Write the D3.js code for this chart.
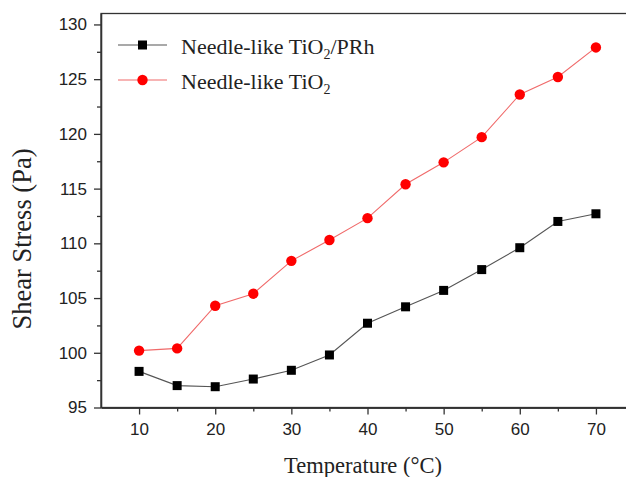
<!DOCTYPE html>
<html>
<head>
<meta charset="utf-8">
<script src="https://cdn.jsdelivr.net/npm/d3@7"></script>
<style>
body { margin:0; background:#fff; }
svg { display:block; }
.tick text { font-family:"Liberation Sans", Arial, sans-serif; font-size:17px; fill:#222; }
.axis path, .axis line { stroke:#333; stroke-width:1.3; }
.title { font-family:"Liberation Serif", "Times New Roman", serif; fill:#222; }
</style>
</head>
<body>
<svg id="chart"></svg>
<script>
var temps = [10,15,20,25,30,35,40,45,50,55,60,65,70]
var prhValues = [98.3,97.0,96.9,97.6,98.4,99.8,102.7,104.2,105.7,107.6,109.6,112.0,112.7]
var tio2Values = [100.2,100.4,104.3,105.4,108.4,110.3,112.3,115.4,117.4,119.7,123.6,125.2,127.9]
var xTicks = [10,20,30,40,50,60,70]
var xMinor = [15,25,35,45,55,65,75]
var yTicks = [95,100,105,110,115,120,125,130]
var yMinor = [97.5,102.5,107.5,112.5,117.5,122.5,127.5]

var screen = {width:626,height:477}
var margins = {left:101,top:13.5,right:-8,bottom:69.5}
var graph = {
    width:screen.width-margins.left-margins.right,
    height:screen.height-margins.top-margins.bottom
}

var svg = d3.select("#chart")
    .attr("width",screen.width)
    .attr("height",screen.height)

var xScale = d3.scaleLinear().domain([5,75]).range([0,graph.width])
var yScale = d3.scaleLinear().domain([95,131]).range([graph.height,0])

var target = svg.append("g")
    .attr("transform","translate("+margins.left+","+margins.top+")")

// frame
target.append("rect")
    .attr("width",graph.width)
    .attr("height",graph.height)
    .attr("fill","none")
    .attr("stroke","#333")
    .attr("stroke-width",1.3)

// axes
var xAxis = d3.axisBottom(xScale).tickValues(xTicks).tickSize(7).tickPadding(8).tickSizeOuter(0)
var gx = target.append("g").attr("class","axis")
    .attr("transform","translate(0,"+graph.height+")")
    .call(xAxis)
var xAxisMinor = d3.axisBottom(xScale).tickValues(xMinor).tickSize(4).tickFormat("").tickSizeOuter(0)
target.append("g").attr("class","axis")
    .attr("transform","translate(0,"+graph.height+")")
    .call(xAxisMinor)

var yAxis = d3.axisLeft(yScale).tickValues(yTicks).tickSize(7).tickPadding(7).tickSizeOuter(0)
target.append("g").attr("class","axis").call(yAxis)
var yAxisMinor = d3.axisLeft(yScale).tickValues(yMinor).tickSize(4).tickFormat("").tickSizeOuter(0)
target.append("g").attr("class","axis").call(yAxisMinor)

// series
var series = [
    {name:"PRh", values:prhValues, line:"#555", color:"#000", shape:"square"},
    {name:"TiO2", values:tio2Values, line:"#f06a6a", color:"#ff0000", shape:"circle"}
]

var line = d3.line()
    .x(function(d,i){ return xScale(temps[i]) })
    .y(function(d){ return yScale(d) })

series.forEach(function(s)
{
    target.append("path")
        .datum(s.values)
        .attr("d",line)
        .attr("fill","none")
        .attr("stroke",s.line)
        .attr("stroke-width",1.1)
    if(s.shape=="square")
    {
        target.selectAll("rect.pt-"+s.name)
            .data(s.values)
            .enter()
            .append("rect")
            .attr("class","pt-"+s.name)
            .attr("x",function(d,i){ return xScale(temps[i])-4.5 })
            .attr("y",function(d){ return yScale(d)-4.5 })
            .attr("width",9)
            .attr("height",9)
            .attr("fill",s.color)
    }
    else
    {
        target.selectAll("circle.pt-"+s.name)
            .data(s.values)
            .enter()
            .append("circle")
            .attr("class","pt-"+s.name)
            .attr("cx",function(d,i){ return xScale(temps[i]) })
            .attr("cy",function(d){ return yScale(d) })
            .attr("r",5.2)
            .attr("fill",s.color)
    }
})

// legend
var legend = svg.append("g").attr("transform","translate(118,45)")
var entries = legend.selectAll("g")
    .data(series)
    .enter()
    .append("g")
    .attr("transform",function(d,i){ return "translate(0,"+i*35+")" })
entries.append("line")
    .attr("x1",0).attr("x2",49)
    .attr("stroke",function(d){ return d.line })
    .attr("stroke-width",1.1)
entries.each(function(d)
{
    var g = d3.select(this)
    if(d.shape=="square")
        g.append("rect").attr("x",20).attr("y",-4.5).attr("width",9).attr("height",9).attr("fill",d.color)
    else
        g.append("circle").attr("cx",24.5).attr("r",5.2).attr("fill",d.color)
})
var legendText = entries.append("text")
    .attr("class","title")
    .attr("x",63)
    .attr("y",9)
    .style("font-size","22px")
legendText.append("tspan").text("Needle-like TiO")
legendText.append("tspan").text("2").style("font-size","14px").attr("dy",5)
legendText.filter(function(d){ return d.shape=="square" })
    .append("tspan").text("/PRh").attr("dy",-5)

// axis titles
svg.append("text")
    .attr("class","title")
    .attr("text-anchor","middle")
    .attr("x",363)
    .attr("y",473)
    .style("font-size","22.5px")
    .text("Temperature (\u00B0C)")

svg.append("text")
    .attr("class","title")
    .attr("text-anchor","middle")
    .attr("transform","translate(31,239) rotate(-90)")
    .style("font-size","26.5px")
    .text("Shear Stress (Pa)")
</script>
</body>
</html>
